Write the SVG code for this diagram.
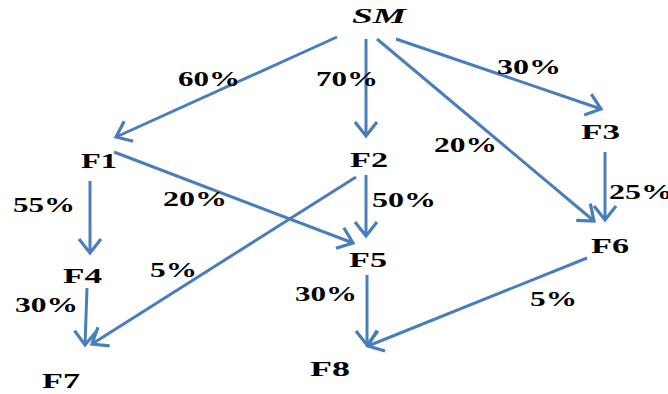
<svg xmlns="http://www.w3.org/2000/svg" width="668" height="394" viewBox="0 0 668 394">
<style>
.bg{fill:#ffffff}
.t{font-family:"Liberation Serif","Times New Roman",serif;font-weight:bold;font-size:21px;fill:#000000}
.sm{font-style:italic;font-size:22px}
.c{stroke:#4a7ebb;stroke-width:3;fill:none;marker-end:url(#ah)}
</style>
<defs>
<marker id="ah" markerUnits="userSpaceOnUse" markerWidth="40" markerHeight="40" refX="0" refY="0" orient="auto" viewBox="-20 -20 40 40" overflow="visible">
<path d="M-14,-11 L0,0 L-14,11" fill="none" stroke="#4a7ebb" stroke-width="3.2" stroke-linejoin="miter"/>
</marker>
</defs>
<rect class="bg" x="0" y="0" width="668" height="394"/>
<g id="connectors">
<path class="c" d="M337,37 L116,137"/>
<path class="c" d="M366,39 L366,136"/>
<path class="c" d="M396,39 L601,109"/>
<path class="c" d="M377,39 L594,221"/>
<path class="c" d="M90,181 L90,253"/>
<path class="c" d="M114,152 L353,243"/>
<path class="c" d="M366,175 L366,236"/>
<path class="c" d="M356,177 L92,344"/>
<path class="c" d="M605,152 L605,220"/>
<path class="c" d="M87,288 L85,345"/>
<path class="c" d="M367,275 L367,345"/>
<path class="c" d="M587,258 L368,346"/>
</g>
<g id="edge-labels">
<text class="t" x="178" y="86" textLength="62" lengthAdjust="spacingAndGlyphs">60%</text>
<text class="t" x="316" y="86" textLength="62" lengthAdjust="spacingAndGlyphs">70%</text>
<text class="t" x="497" y="74" textLength="64" lengthAdjust="spacingAndGlyphs">30%</text>
<text class="t" x="434" y="152" textLength="63" lengthAdjust="spacingAndGlyphs">20%</text>
<text class="t" x="13" y="212" textLength="62" lengthAdjust="spacingAndGlyphs">55%</text>
<text class="t" x="163" y="206" textLength="64" lengthAdjust="spacingAndGlyphs">20%</text>
<text class="t" x="372" y="207" textLength="64" lengthAdjust="spacingAndGlyphs">50%</text>
<text class="t" x="609" y="199" textLength="64" lengthAdjust="spacingAndGlyphs">25%</text>
<text class="t" x="150" y="277" textLength="47" lengthAdjust="spacingAndGlyphs">5%</text>
<text class="t" x="15" y="312" textLength="63" lengthAdjust="spacingAndGlyphs">30%</text>
<text class="t" x="295" y="301" textLength="62" lengthAdjust="spacingAndGlyphs">30%</text>
<text class="t" x="530" y="306" textLength="47" lengthAdjust="spacingAndGlyphs">5%</text>
</g>
<g id="SM"><text class="t sm" x="352" y="23" textLength="54" lengthAdjust="spacingAndGlyphs">SM</text></g>
<g id="F1"><text class="t" x="81" y="168" textLength="36" lengthAdjust="spacingAndGlyphs">F1</text></g>
<g id="F2"><text class="t" x="350" y="167" textLength="38" lengthAdjust="spacingAndGlyphs">F2</text></g>
<g id="F3"><text class="t" x="581" y="139" textLength="39" lengthAdjust="spacingAndGlyphs">F3</text></g>
<g id="F4"><text class="t" x="63" y="283" textLength="39" lengthAdjust="spacingAndGlyphs">F4</text></g>
<g id="F5"><text class="t" x="349" y="267" textLength="38" lengthAdjust="spacingAndGlyphs">F5</text></g>
<g id="F6"><text class="t" x="591" y="253" textLength="38" lengthAdjust="spacingAndGlyphs">F6</text></g>
<g id="F7"><text class="t" x="42" y="388" textLength="38" lengthAdjust="spacingAndGlyphs">F7</text></g>
<g id="F8"><text class="t" x="310" y="376" textLength="40" lengthAdjust="spacingAndGlyphs">F8</text></g>
</svg>
